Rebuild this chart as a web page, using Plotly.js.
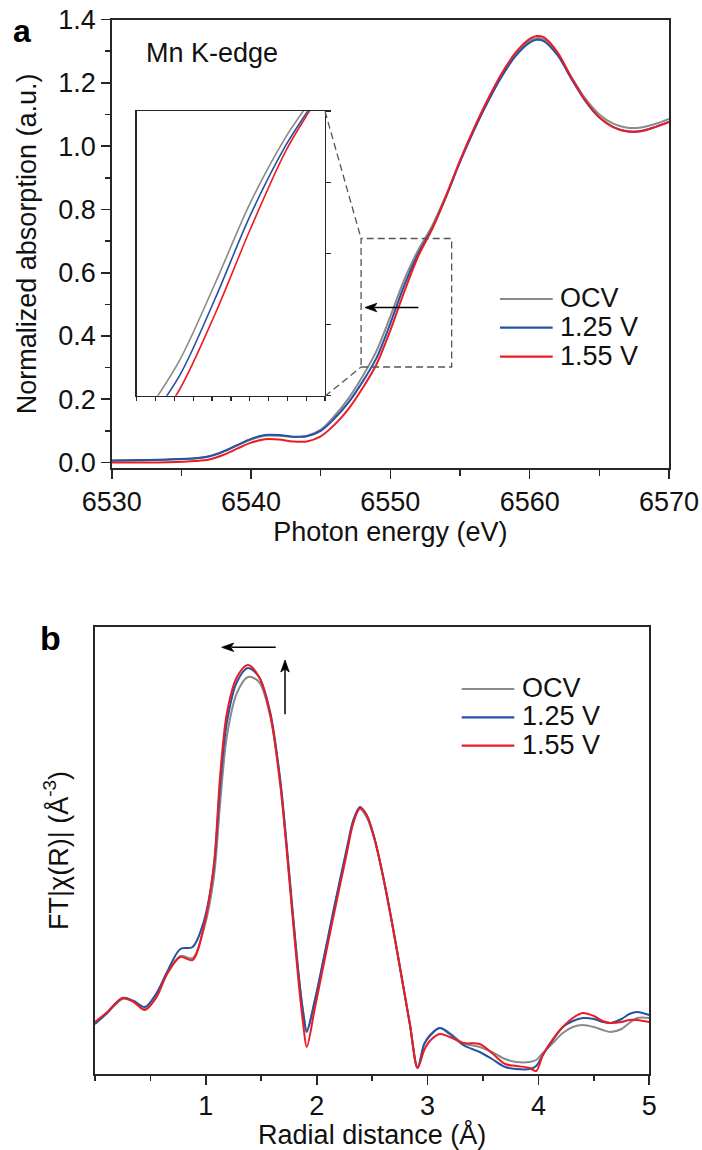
<!DOCTYPE html>
<html>
<head>
<meta charset="utf-8">
<script src="https://cdn.plot.ly/plotly-3.0.1.min.js"></script>
<style>
  html, body { margin: 0; padding: 0; background: #fff; }
  #chart { width: 702px; height: 1150px; }
</style>
</head>
<body>
<div id="chart"></div>
<script>
// ---------- Panel a: Mn K-edge XANES ----------
const energy = [6530, 6532, 6534, 6536, 6537, 6538, 6539, 6540, 6541, 6542, 6543, 6544, 6545, 6546, 6547, 6548, 6549, 6550, 6551, 6552, 6553, 6554, 6555, 6556, 6557, 6558, 6559, 6560, 6560.5, 6561, 6562, 6563, 6564, 6565, 6566, 6567, 6568, 6569, 6570];
const xanesOCV = [0.006, 0.007, 0.009, 0.013, 0.019, 0.034, 0.054, 0.073, 0.085, 0.085, 0.081, 0.084, 0.104, 0.148, 0.203, 0.272, 0.352, 0.462, 0.578, 0.672, 0.748, 0.845, 0.952, 1.052, 1.143, 1.225, 1.290, 1.333, 1.341, 1.337, 1.292, 1.218, 1.150, 1.100, 1.071, 1.058, 1.059, 1.070, 1.086];
const xanes125 = [0.007, 0.008, 0.010, 0.014, 0.020, 0.035, 0.055, 0.075, 0.087, 0.087, 0.082, 0.083, 0.100, 0.140, 0.190, 0.255, 0.330, 0.440, 0.560, 0.660, 0.740, 0.840, 0.950, 1.050, 1.140, 1.220, 1.285, 1.327, 1.336, 1.332, 1.287, 1.212, 1.142, 1.090, 1.060, 1.047, 1.048, 1.060, 1.076];
const xanes155 = [0.000, 0.000, 0.001, 0.005, 0.010, 0.024, 0.044, 0.063, 0.074, 0.073, 0.067, 0.067, 0.083, 0.120, 0.170, 0.235, 0.310, 0.418, 0.540, 0.652, 0.738, 0.842, 0.955, 1.056, 1.148, 1.230, 1.296, 1.339, 1.348, 1.344, 1.296, 1.216, 1.144, 1.091, 1.060, 1.046, 1.047, 1.060, 1.076];

// ---------- Panel b: Fourier transform |chi(R)| (arbitrary units) ----------
const radial = [0, 0.1, 0.25, 0.35, 0.45, 0.55, 0.65, 0.77, 0.88, 0.98, 1.07, 1.13, 1.19, 1.28, 1.38, 1.48, 1.58, 1.67, 1.72, 1.78, 1.84, 1.88, 1.91, 1.98, 2.06, 2.15, 2.27, 2.33, 2.39, 2.45, 2.52, 2.60, 2.68, 2.76, 2.84, 2.91, 2.97, 3.02, 3.11, 3.2, 3.32, 3.47, 3.58, 3.7, 3.8, 3.92, 3.98, 4.04, 4.13, 4.22, 4.31, 4.40, 4.5, 4.58, 4.65, 4.75, 4.82, 4.89, 5.0];
const ftOCV = [51, 60, 75, 72, 65, 77, 100, 118, 116, 144, 195, 272, 338, 381, 397, 392, 358, 293, 238, 165, 96, 60, 44, 72, 113, 161, 223, 252, 265, 257, 235, 196, 150, 100, 50, 7, 30, 39, 46, 41, 31, 27, 22, 15, 12, 12, 14, 21, 31, 41, 47, 49, 47, 44, 42, 45, 51, 56, 56];
const ft125 = [50, 60, 76, 73, 67, 80, 102, 125, 127, 152, 205, 290, 352, 392, 406, 397, 362, 295, 240, 166, 96, 60, 42, 72, 114, 163, 225, 254, 267, 259, 236, 197, 151, 101, 50, 6, 30, 38, 46, 40, 29, 22, 15, 7, 5, 5, 8, 19, 34, 47, 53, 56, 55, 52, 51, 55, 60, 62, 59];
const ft155 = [52, 61, 76, 72, 64, 76, 100, 117, 114, 147, 207, 300, 361, 397, 409, 397, 360, 290, 235, 160, 88, 48, 27, 64, 108, 157, 220, 251, 266, 259, 236, 197, 151, 101, 50, 6, 24, 33, 40, 37, 31, 30, 21, 10, 8, 6, 3, 19, 35, 47, 56, 61, 58, 53, 51, 52, 54, 54, 52];

const seriesNames = ['OCV', '1.25 V', '1.55 V'];
const seriesColors = ['#8a8a8a', '#2452a6', '#ec1c24'];
const xanesSeries = [xanesOCV, xanes125, xanes155];
const ftSeries = [ftOCV, ft125, ft155];
const radialTicks = [1, 2, 3, 4, 5];

const W = 702, H = 1150;
const px = v => v / W;          // pixel -> paper x
const py = v => 1 - v / H;      // pixel -> paper y

const FONT = 'Liberation Sans, Arial, Helvetica, sans-serif';
const FS = 27;
const AX = '#262626';

const traces = [];
seriesNames.forEach((name, i) => {
  traces.push({ x: energy, y: xanesSeries[i], name: name, type: 'scatter', mode: 'lines',
    xaxis: 'x', yaxis: 'y', line: { color: seriesColors[i], width: 2, shape: 'spline', smoothing: 0.9 },
    showlegend: false, hoverinfo: 'skip' });
});
seriesNames.forEach((name, i) => {
  traces.push({ x: energy, y: xanesSeries[i], name: name, type: 'scatter', mode: 'lines',
    xaxis: 'x3', yaxis: 'y3', line: { color: seriesColors[i], width: 1.6, shape: 'spline', smoothing: 0.9 },
    showlegend: false, hoverinfo: 'skip' });
});
seriesNames.forEach((name, i) => {
  traces.push({ x: radial, y: ftSeries[i], name: name, type: 'scatter', mode: 'lines',
    xaxis: 'x2', yaxis: 'y2', line: { color: seriesColors[i], width: 2, shape: 'spline', smoothing: 0.9 },
    showlegend: false, hoverinfo: 'skip' });
});

const baseAxis = {
  showline: true, linecolor: AX, linewidth: 1.6, mirror: true,
  showgrid: false, zeroline: false, ticks: 'outside', tickcolor: AX, tickwidth: 1.6,
  tickfont: { family: FONT, size: FS, color: '#111' }, automargin: false, fixedrange: true
};

// inset ranges
const insetX = [6547.77, 6553.12];
const insetY = [0.30, 0.71];

const shapes = [];
const annotations = [];

// dashed zoom box and connectors
const dashLine = { color: '#555', width: 1.3, dash: '7px,4px' };
shapes.push({ type: 'rect', xref: 'x', yref: 'y', x0: 6547.9, x1: 6554.4, y0: 0.302, y1: 0.708, line: dashLine });
shapes.push({ type: 'line', xref: 'x', yref: 'y', x0: 6545.31, y0: 1.110, x1: 6547.9, y1: 0.708, line: dashLine });
shapes.push({ type: 'line', xref: 'x', yref: 'y', x0: 6545.31, y0: 0.2096, x1: 6547.9, y1: 0.302, line: dashLine });

// arrows (line + filled head), drawn as shapes in axis coordinates
function arrow(xref, yref, x0, y0, x1, y1, hx, hy, dir) {
  const s = { type: 'line', xref: xref, yref: yref, line: { color: '#000', width: 1.5 } };
  let path;
  if (dir === 'left') {
    Object.assign(s, { x0: x0, y0: y0, x1: x1 + hx * 0.8, y1: y1 });
    path = `M ${x1},${y1} L ${x1 + hx},${y1 + hy} L ${x1 + hx * 0.75},${y1} L ${x1 + hx},${y1 - hy} Z`;
  } else {
    Object.assign(s, { x0: x0, y0: y0, x1: x1, y1: y1 - hy * 0.8 });
    path = `M ${x1},${y1} L ${x1 - hx},${y1 - hy} L ${x1},${y1 - hy * 0.75} L ${x1 + hx},${y1 - hy} Z`;
  }
  shapes.push(s);
  shapes.push({ type: 'path', xref: xref, yref: yref, path: path, fillcolor: '#000', line: { color: '#000', width: 0.8 } });
}
arrow('x', 'y', 6552.01, 0.49, 6548.18, 0.49, 0.85, 0.0135, 'left');
arrow('x2', 'y2', 1.630, 426.7, 1.143, 426.7, 0.108, 4.2, 'left');
arrow('x2', 'y2', 1.714, 359.7, 1.714, 414, 0.038, 12, 'up');

// manual legends
const legA = { x0: 500, x1: 552.7, text: 558, rows: [299, 327.7, 356.7] };
const legB = { x0: 461.7, x1: 514.3, text: 519.7, rows: [689, 717.3, 745.7] };
[legA, legB].forEach(L => {
  seriesNames.forEach((name, i) => {
    shapes.push({ type: 'line', xref: 'paper', yref: 'paper', x0: px(L.x0), x1: px(L.x1),
      y0: py(L.rows[i]), y1: py(L.rows[i]), line: { color: seriesColors[i], width: 2.2 } });
    annotations.push({ xref: 'paper', yref: 'paper', x: px(L.text), y: py(L.rows[i] - 1),
      xanchor: 'left', yanchor: 'middle', showarrow: false, text: name,
      font: { family: FONT, size: FS, color: '#111' } });
  });
});

// panel labels and text
annotations.push({ xref: 'paper', yref: 'paper', x: px(22.5), y: py(31), xanchor: 'center', yanchor: 'middle',
  showarrow: false, text: '<b>a</b>', font: { family: FONT, size: 32, color: '#000' } });
annotations.push({ xref: 'paper', yref: 'paper', x: px(50), y: py(638), xanchor: 'center', yanchor: 'middle',
  showarrow: false, text: '<b>b</b>', font: { family: FONT, size: 34, color: '#000' } });
annotations.push({ xref: 'paper', yref: 'paper', x: px(144), y: py(53), xanchor: 'left', yanchor: 'middle',
  showarrow: false, text: 'Mn K-edge', font: { family: FONT, size: FS, color: '#111' } });

const layout = {
  width: W, height: H,
  margin: { l: 0, r: 0, t: 0, b: 0, pad: 0 },
  paper_bgcolor: '#fff', plot_bgcolor: '#fff',
  showlegend: false,
  font: { family: FONT, size: FS, color: '#111' },
  xaxis: Object.assign({}, baseAxis, {
    domain: [px(111.7), px(669)], anchor: 'y', range: [6530, 6570],
    tickmode: 'linear', tick0: 6530, dtick: 10, ticklen: 9,
    minor: { ticks: 'outside', tick0: 6530, dtick: 5, ticklen: 6, tickwidth: 1.6, tickcolor: AX, showgrid: false },
    title: { text: 'Photon energy (eV)', font: { family: FONT, size: FS, color: '#111' }, standoff: 4 }
  }),
  yaxis: Object.assign({}, baseAxis, {
    domain: [py(468.3), py(19.5)], anchor: 'x', range: [-0.018, 1.4],
    tickmode: 'linear', tick0: 0, dtick: 0.2, tickformat: '.1f', ticklen: 9,
    minor: { ticks: 'outside', tick0: 0, dtick: 0.1, ticklen: 5, tickwidth: 1.6, tickcolor: AX, showgrid: false },
    title: { text: 'Normalized absorption (a.u.)', font: { family: FONT, size: FS, color: '#111' }, standoff: 13 }
  }),
  xaxis3: Object.assign({}, baseAxis, {
    domain: [px(136.7), px(325)], anchor: 'y3', range: insetX, linewidth: 1.3,
    tickmode: 'linear', tick0: insetX[0], dtick: (insetX[1] - insetX[0]) / 10, ticklen: 4, tickwidth: 1.3,
    showticklabels: false
  }),
  yaxis3: Object.assign({}, baseAxis, {
    domain: [py(395.7), py(111)], anchor: 'x3', range: insetY, side: 'right', linewidth: 1.3,
    tickmode: 'linear', tick0: insetY[0], dtick: (insetY[1] - insetY[0]) / 4, ticklen: 5, tickwidth: 1.3,
    showticklabels: false
  }),
  xaxis2: Object.assign({}, baseAxis, {
    domain: [px(95), px(649.3)], anchor: 'y2', range: [0, 5],
    tickmode: 'array', tickvals: radialTicks, ticklen: 9, ticklabelstandoff: -2,
    minor: { ticks: 'outside', tickmode: 'linear', tick0: 0, dtick: 0.5, ticklen: 5, tickwidth: 1.6, tickcolor: AX, showgrid: false },
    title: { text: 'Radial distance (Å)', font: { family: FONT, size: FS, color: '#111' }, standoff: 6 }
  }),
  yaxis2: Object.assign({}, baseAxis, {
    domain: [py(1074), py(627)], anchor: 'x2', range: [0, 447],
    ticks: '', showticklabels: false,
    title: { text: 'FT|χ(R)| (Å<sup>-3</sup>)', font: { family: FONT, size: FS, color: '#111' }, standoff: 17 }
  }),
  shapes: shapes,
  annotations: annotations
};

Plotly.newPlot('chart', traces, layout, { staticPlot: true, displayModeBar: false });
</script>
</body>
</html>
